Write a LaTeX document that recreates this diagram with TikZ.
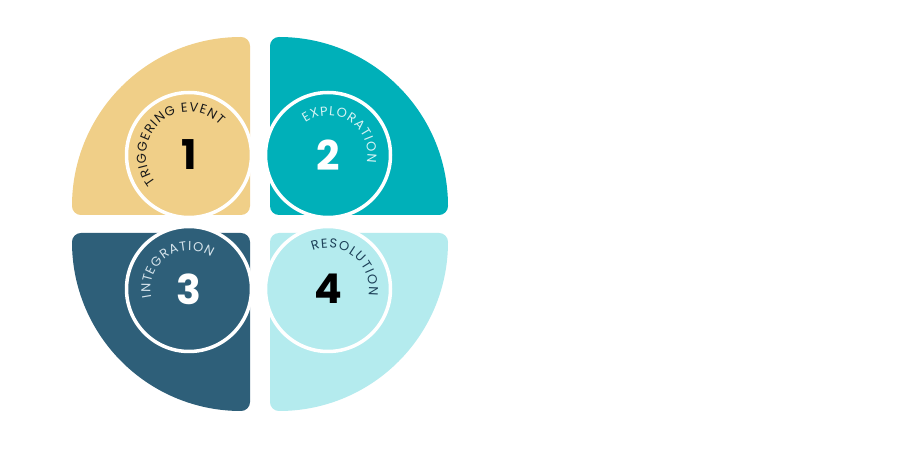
\documentclass[tikz,border=0pt]{standalone}
\usepackage{fontspec}
\setmainfont{Poppins}
\usetikzlibrary{decorations.text}
\definecolor{qyellow}{HTML}{F0CF88}
\definecolor{qteal}{HTML}{00B0B9}
\definecolor{qdark}{HTML}{2E5F79}
\definecolor{qlight}{HTML}{B4EBEE}
\definecolor{tdark}{HTML}{1A1A1A}
\definecolor{tnavy}{HTML}{1E4159}
\definecolor{tpale}{HTML}{D5F3F4}
\definecolor{tpale2}{HTML}{D3E2EA}
\newcommand{\arcfont}{\fontsize{13}{13}\selectfont}
\begin{document}
\begin{tikzpicture}[x=1pt,y=1pt,
  quad/.style={line width=18pt, line join=round},
  disc/.style={circle, draw=white, line width=3.5pt, minimum size=125pt, inner sep=0pt},
  num/.style={font=\fontsize{41}{41}\selectfont\bfseries, inner sep=0pt},
  arctext/.style={decorate, decoration={text along path, text align=fit to path, text color=#1}}
]
\fill[white] (0,0) rectangle (900,450);
\useasboundingbox (0,0) rectangle (900,450);
% quadrants
\filldraw[quad, fill=qyellow, draw=qyellow] (241,244) -- (81,244) arc[start angle=180, end angle=90, radius=160] -- cycle;
\filldraw[quad, fill=qteal, draw=qteal] (279,244) -- (279,404) arc[start angle=90, end angle=0, radius=160] -- cycle;
\filldraw[quad, fill=qdark, draw=qdark] (241,208) -- (241,48) arc[start angle=270, end angle=180, radius=160] -- cycle;
\filldraw[quad, fill=qlight, draw=qlight] (279,208) -- (439,208) arc[start angle=0, end angle=-90, radius=160] -- cycle;
% circles
\node[disc, fill=qyellow] (c1) at (189,295) {};
\node[disc, fill=qteal] (c2) at (328,295) {};
\node[disc, fill=qdark] (c3) at (189,161) {};
\node[disc, fill=qlight] (c4) at (328,161) {};
% numbers
\node[num, text=black] (n1) at (c1.center) {1};
\node[num, text=white] (n2) at (c2.center) {2};
\node[num, text=white] (n3) at (c3.center) {3};
\node[num, text=black] (n4) at (c4.center) {4};
% curved labels
\path[arctext=tdark, decoration={text={|\arcfont|TRIGGERING EVENT}}]
  ([shift={(219:43)}]c1.center) arc[start angle=219, end angle=44, radius=43];
\path[arctext=tpale, decoration={text={|\arcfont|EXPLORATION}}]
  ([shift={(125:39.5)}]c2.center) arc[start angle=125, end angle=-11, radius=39.5];
\path[arctext=tpale2, decoration={text={|\arcfont|INTEGRATION}}]
  ([shift={(192:38.5)}]c3.center) arc[start angle=192, end angle=55, radius=38.5];
\path[arctext=tnavy, decoration={text={|\arcfont|RESOLUTION}}]
  ([shift={(112:41)}]c4.center) arc[start angle=112, end angle=-9, radius=41];
\end{tikzpicture}
\end{document}
